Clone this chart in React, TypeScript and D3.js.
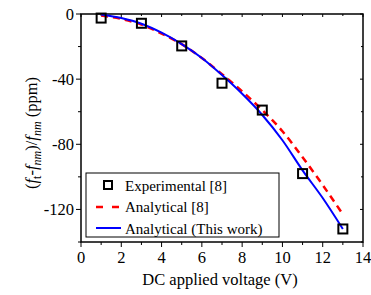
import React from "react";
import * as d3 from "d3";

const expV = [1, 3, 5, 7, 9, 11, 13];
const expVals = [-2.5, -5.7, -19.6, -42.5, -59, -98, -132];
const lineV = [1, 2, 3, 4, 5, 6, 7, 8, 9, 10, 11, 12, 13];
const refVals = [-1, -3, -6.5, -12, -18.5, -27, -37, -47.5, -59, -72, -88, -105, -123];
const workVals = [-0.3, -2.5, -6, -11.5, -18.5, -27, -37.5, -49, -62, -77.5, -96, -113, -132];
const xTicks = [0, 2, 4, 6, 8, 10, 12, 14];
const yTicks = [0, -40, -80, -120];
const legendLabels = ["Experimental [8]", "Analytical [8]", "Analytical (This work)"];

const FONT = "'Times New Roman', Times, 'Liberation Serif', 'DejaVu Serif', serif";

export default function App() {
  const W = 371, H = 295;
  const L = 81, R = 363, T = 14, B = 242;
  const x = d3.scaleLinear().domain([0, 14]).range([L, R]);
  const y = d3.scaleLinear().domain([-140, 0]).range([B, T]);
  const line = d3.line<number>().x((_, i) => x(lineV[i])).y((d) => y(d)).curve(d3.curveMonotoneX);
  const xMinor = d3.range(0, 14.01, 1);
  const yMinor = d3.range(-140, 0.01, 20);
  const ts = { fontFamily: FONT };
  return (
    <svg width={W} height={H} style={{ position: "absolute", left: 0, top: 0 }}>
      <rect x={0} y={0} width={W} height={H} fill="#fff" />
      <rect x={L} y={T} width={R - L} height={B - T} fill="none" stroke="#000" strokeWidth={1.5} />
      {xMinor.map((v) => {
        const major = v % 2 === 0;
        return (
          <g key={"xt" + v}>
            <line x1={x(v)} x2={x(v)} y1={B} y2={B + (major ? 5 : 3)} stroke="#000" strokeWidth={1} />
            <line x1={x(v)} x2={x(v)} y1={T} y2={T + (major ? 3 : 2)} stroke="#000" strokeWidth={1} />
          </g>
        );
      })}
      {xTicks.map((v) => (
        <text key={"xl" + v} style={ts} x={x(v)} y={263} fontSize={16.5} textAnchor="middle" fill="#000">{v}</text>
      ))}
      {yMinor.map((v) => {
        const major = v % 40 === 0;
        return (
          <g key={"yt" + v}>
            <line x1={L - (major ? 5 : 3)} x2={L} y1={y(v)} y2={y(v)} stroke="#000" strokeWidth={1} />
            <line x1={R} x2={R - (major ? 3 : 2)} y1={y(v)} y2={y(v)} stroke="#000" strokeWidth={1} />
          </g>
        );
      })}
      {yTicks.map((v) => (
        <text key={"yl" + v} style={ts} x={L - 7} y={y(v) + 5.5} fontSize={16.5} textAnchor="end" fill="#000">{v}</text>
      ))}
      <text style={ts} x={220} y={285} fontSize={16.5} textAnchor="middle" fill="#000">DC applied voltage (V)</text>
      <text style={ts} transform={`translate(37, 133) rotate(-90)`} fontSize={16.5} textAnchor="middle" fill="#000">
        (<tspan fontStyle="italic">f</tspan><tspan fontSize={12} dy={4}>t</tspan><tspan dy={-4}>-</tspan>
        <tspan fontStyle="italic">f</tspan><tspan fontSize={12} dy={4} fontStyle="italic">nm</tspan>
        <tspan dy={-4}>)/</tspan><tspan fontStyle="italic">f</tspan>
        <tspan fontSize={12} dy={4} fontStyle="italic">nm</tspan><tspan dy={-4}> (ppm)</tspan>
      </text>
      <path d={line(refVals) || ""} fill="none" stroke="#ff0000" strokeWidth={2.5} strokeDasharray="7,5" />
      <path d={line(workVals) || ""} fill="none" stroke="#0000ff" strokeWidth={2} />
      {expV.map((v, i) => (
        <rect key={"m" + i} x={x(v) - 4.5} y={y(expVals[i]) - 4.5} width={9} height={9} fill="none" stroke="#000" strokeWidth={2} />
      ))}
      <rect x={86} y={173} width={193} height={64} fill="#fff" stroke="#000" strokeWidth={1} />
      <rect x={104} y={181} width={8} height={8} fill="none" stroke="#000" strokeWidth={2} />
      <line x1={96} x2={121} y1={207} y2={207} stroke="#ff0000" strokeWidth={2.5} strokeDasharray="7,9" />
      <line x1={96} x2={121} y1={228} y2={228} stroke="#0000ff" strokeWidth={2} />
      {legendLabels.map((s, i) => (
        <text key={"lg" + i} style={ts} x={125} y={190.5 + i * 21.5} fontSize={15} fill="#000">{s}</text>
      ))}
    </svg>
  );
}
